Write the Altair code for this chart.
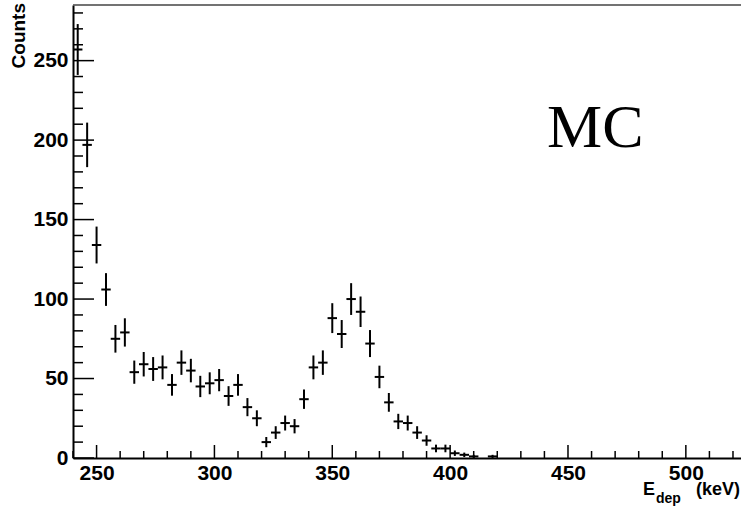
import altair as alt
import pandas as pd

# ---- data (bin centres in keV, counts, errors) ----
bin_centers = [242, 246, 250, 254, 258, 262, 266, 270, 274, 278, 282, 286, 290,
               294, 298, 302, 306, 310, 314, 318, 322, 326, 330, 334, 338, 342,
               346, 350, 354, 358, 362, 366, 370, 374, 378, 382, 386, 390, 394,
               398, 402, 406, 410, 418]
counts = [257, 197, 134, 106, 75, 79, 54, 59, 56, 57, 46, 60, 55,
          45, 47, 49, 39, 46, 32, 25, 10, 16, 22, 20, 37, 57,
          60, 88, 78, 100, 92, 72, 51, 35, 23, 22, 16, 11, 6,
          6, 3, 2, 1, 1]
errors = [16.0, 14.0, 11.6, 10.3, 8.7, 8.9, 7.3, 7.7, 7.5, 7.5, 6.8, 7.7, 7.4,
          6.7, 6.9, 7.0, 6.2, 6.8, 5.7, 5.0, 3.2, 4.0, 4.7, 4.5, 6.1, 7.5,
          7.7, 9.4, 8.8, 10.0, 9.6, 8.5, 7.1, 5.9, 4.8, 4.7, 4.0, 3.3, 2.4,
          2.4, 1.7, 1.4, 1.0, 1.0]
bin_width = 4

x_label_values = [250, 300, 350, 400, 450, 500]
y_label_values = [0, 50, 100, 150, 200, 250]
x_major_ticks = [250, 300, 350, 400, 450, 500]
x_minor_ticks = [v for v in range(240, 530, 10) if v not in x_major_ticks]
y_major_ticks = [0, 50, 100, 150, 200, 250]
y_minor_ticks = [v for v in range(0, 290, 10) if v not in y_major_ticks]

W, H = 668, 453
x_domain = [240, 523.4]
y_domain = [0, 285]

df = pd.DataFrame({
    "E": bin_centers,
    "N": counts,
    "err": errors,
})
df["lo"] = df["N"] - df["err"]
df["hi"] = df["N"] + df["err"]
df["left"] = df["E"] - bin_width / 2
df["right"] = df["E"] + bin_width / 2

xs = alt.Scale(domain=x_domain, nice=False, zero=False)
ys = alt.Scale(domain=y_domain, nice=False, zero=False)

LABEL_FONT = "Liberation Sans"

base = alt.Chart(df)

vbars = base.mark_rule(color="black", strokeWidth=2).encode(
    x=alt.X("E:Q", scale=xs,
            axis=alt.Axis(values=x_label_values, title=None, grid=False,
                          ticks=False, tickSize=0, labelPadding=4,
                          labelFont=LABEL_FONT, labelFontSize=21,
                          labelFontWeight="bold", labelColor="black",
                          domainColor="black", domainWidth=2)),
    y=alt.Y("lo:Q", scale=ys,
            axis=alt.Axis(values=y_label_values, title=None, grid=False,
                          ticks=False, tickSize=0, labelPadding=5,
                          labelFont=LABEL_FONT, labelFontSize=21,
                          labelFontWeight="bold", labelColor="black",
                          domainColor="black", domainWidth=2)),
    y2="hi:Q",
)

hbars = base.mark_rule(color="black", strokeWidth=2).encode(
    x=alt.X("left:Q", scale=xs),
    x2="right:Q",
    y=alt.Y("N:Q", scale=ys),
)

# inward-pointing ticks (ROOT style)
xmaj = alt.Chart(pd.DataFrame({"t": x_major_ticks})).mark_rule(color="black", strokeWidth=1.5).encode(
    x=alt.X("t:Q", scale=xs), y=alt.value(H), y2=alt.value(H - 13))
xmin = alt.Chart(pd.DataFrame({"t": x_minor_ticks})).mark_rule(color="black", strokeWidth=1.5).encode(
    x=alt.X("t:Q", scale=xs), y=alt.value(H), y2=alt.value(H - 7))
ymaj = alt.Chart(pd.DataFrame({"t": y_major_ticks})).mark_rule(color="black", strokeWidth=1.5).encode(
    y=alt.Y("t:Q", scale=ys), x=alt.value(0), x2=alt.value(21))
ymin = alt.Chart(pd.DataFrame({"t": y_minor_ticks})).mark_rule(color="black", strokeWidth=1.5).encode(
    y=alt.Y("t:Q", scale=ys), x=alt.value(0), x2=alt.value(10))

top_line = alt.Chart(pd.DataFrame({"a": [0]})).mark_rule(color="#444444", strokeWidth=1.5).encode(
    x=alt.value(0), x2=alt.value(W), y=alt.value(0))

one = pd.DataFrame({"a": [0]})
mc_text = alt.Chart(one).mark_text(text="MC", font="Liberation Serif", fontSize=62,
                                   align="left", baseline="alphabetic", color="black").encode(
    x=alt.value(474), y=alt.value(142))

e_text = alt.Chart(one).mark_text(text="E", font=LABEL_FONT, fontSize=18, fontWeight="bold",
                                  align="left", baseline="alphabetic", color="black").encode(
    x=alt.value(570), y=alt.value(490))
dep_text = alt.Chart(one).mark_text(text="dep", font=LABEL_FONT, fontSize=14, fontWeight="bold",
                                    align="left", baseline="alphabetic", color="black").encode(
    x=alt.value(583), y=alt.value(498))
kev_text = alt.Chart(one).mark_text(text="(keV)", font=LABEL_FONT, fontSize=18, fontWeight="bold",
                                    align="right", baseline="alphabetic", color="black").encode(
    x=alt.value(W - 1), y=alt.value(490))
counts_text = alt.Chart(one).mark_text(text="Counts", font=LABEL_FONT, fontSize=19, fontWeight="bold",
                                       angle=270, align="right", baseline="alphabetic",
                                       color="black").encode(
    x=alt.value(-48), y=alt.value(-2))

chart = alt.layer(
    top_line, xmaj, xmin, ymaj, ymin, vbars, hbars,
    mc_text, e_text, dep_text, kev_text, counts_text,
).properties(
    width=W, height=H,
    autosize=alt.AutoSizeParams(type="none"),
    padding={"left": 73, "top": 5, "right": 0, "bottom": 51},
    background="white",
).configure_view(strokeWidth=0)

chart.save("out.html", embed_options={"renderer": "svg", "actions": False})
